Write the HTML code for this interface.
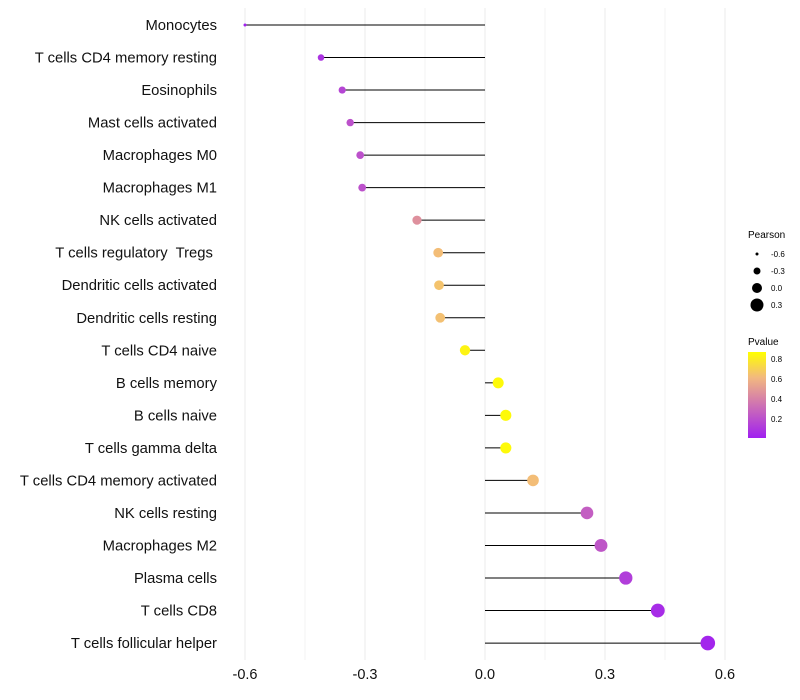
<!DOCTYPE html>
<html><head><meta charset="utf-8"><style>body{margin:0;background:#fff}svg{display:block;font-family:"Liberation Sans",sans-serif}text{white-space:pre}</style></head>
<body>
<svg id="chart" width="800" height="700">
<defs><linearGradient id="pg" x1="0" y1="1" x2="0" y2="0">
<stop offset="0" stop-color="#a020f0"/><stop offset="0.45" stop-color="#d680a8"/><stop offset="0.7" stop-color="#f2b880"/><stop offset="1" stop-color="#ffff00"/></linearGradient></defs>
<g id="grid"></g><g id="marks"></g><g id="labels"></g>
<g font-size="9">
<text x="748" y="238" font-size="10">Pearson</text>
<circle cx="757" cy="254" r="1.5"/><text x="771" y="257" font-size="8">-0.6</text>
<circle cx="757" cy="271" r="3.5"/><text x="771" y="274" font-size="8">-0.3</text>
<circle cx="757" cy="288" r="5"/><text x="771" y="291" font-size="8">0.0</text>
<circle cx="757" cy="305" r="6.5"/><text x="771" y="308" font-size="8">0.3</text>
<text x="748" y="345" font-size="10">Pvalue</text>
<rect x="748" y="352" width="18" height="86" fill="url(#pg)"/>
<text x="771" y="362" font-size="8">0.8</text><text x="771" y="382" font-size="8">0.6</text>
<text x="771" y="402" font-size="8">0.4</text><text x="771" y="422" font-size="8">0.2</text>
</g>
</svg>
<script>
const categories=["Monocytes","T cells CD4 memory resting","Eosinophils","Mast cells activated","Macrophages M0","Macrophages M1","NK cells activated","T cells regulatory  Tregs ","Dendritic cells activated","Dendritic cells resting","T cells CD4 naive","B cells memory","B cells naive","T cells gamma delta","T cells CD4 memory activated","NK cells resting","Macrophages M2","Plasma cells","T cells CD8","T cells follicular helper"];
const pearson=[-0.6,-0.41,-0.357,-0.337,-0.312,-0.307,-0.17,-0.117,-0.115,-0.112,-0.05,0.033,0.052,0.052,0.12,0.255,0.29,0.352,0.432,0.557];
const pvalues=[0.01,0.08,0.15,0.2,0.2,0.2,0.45,0.62,0.64,0.63,0.83,0.85,0.85,0.85,0.62,0.25,0.22,0.12,0.05,0.02];
const xTicks=[-0.6,-0.3,0.0,0.3,0.6];
const xTickLabels=["-0.6","-0.3","0.0","0.3","0.6"];
const NS="http://www.w3.org/2000/svg";
const x=v=>485+v*400;
const y=i=>25+i*32.53;
const r=p=>Math.sqrt(Math.max(0.5,2.25+44*(p+0.6)));
function lerp(a,b,t){return a.map((v,k)=>Math.round(v+(b[k]-v)*t));}
const stops=[[0,[160,32,240]],[0.39,[214,128,168]],[0.6,[242,184,128]],[0.87,[255,255,0]]];
function col(p){p=Math.max(0,Math.min(0.87,p));for(let k=1;k<stops.length;k++){if(p<=stops[k][0]){const t=(p-stops[k-1][0])/(stops[k][0]-stops[k-1][0]);return "rgb("+lerp(stops[k-1][1],stops[k][1],t).join(",")+")";}}return "rgb(255,255,0)";}
function mk(t,a,parent){const e=document.createElementNS(NS,t);for(const k in a)e.setAttribute(k,a[k]);parent.appendChild(e);return e;}
const grid=document.getElementById('grid'),marks=document.getElementById('marks'),labels=document.getElementById('labels');
for(let v=-0.6;v<=0.601;v+=0.15){const g=mk('line',{x1:x(v),x2:x(v),y1:8,y2:660,stroke:'#ebebeb','stroke-width':Math.abs((v/0.3)-Math.round(v/0.3))<0.01?1:0.6},grid);

}
xTicks.forEach((v,i)=>{const t=mk('text',{x:x(v),y:679,'text-anchor':'middle','font-size':14.5,fill:'#111'},labels);t.textContent=xTickLabels[i];

});
categories.forEach((c,i)=>{
const t=mk('text',{x:217,y:y(i)+5,'text-anchor':'end','font-size':14.8,fill:'#111'},labels);t.textContent=c;


const l=mk('line',{x1:x(0),x2:x(pearson[i]),y1:y(i),y2:y(i),stroke:'#000','stroke-width':1},marks);


const d=mk('circle',{cx:x(pearson[i]),cy:y(i),r:r(pearson[i]),fill:col(pvalues[i])},marks);


});
</script>
</body></html>
